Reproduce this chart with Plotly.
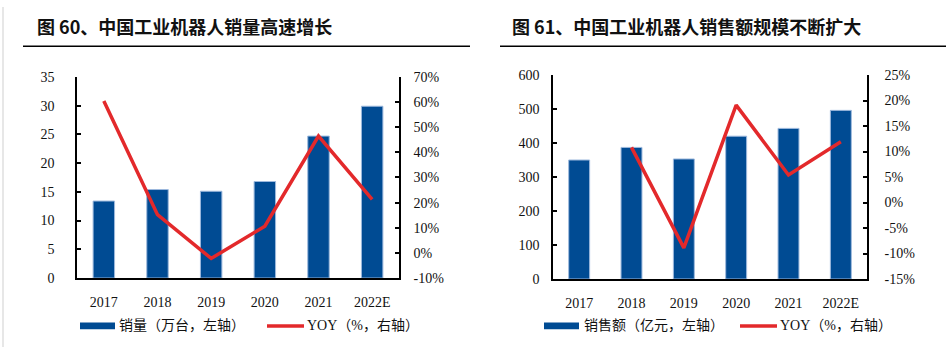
import plotly.graph_objects as go

years = ["2017", "2018", "2019", "2020", "2021", "2022E"]
sales_volume = [13.4, 15.4, 15.1, 16.8, 24.7, 29.9]          # 万台
volume_yoy = [60.4, 15.2, -2.2, 10.6, 46.5, 21.3]             # %
sales_value = [350, 387, 353, 420, 443, 496]                   # 亿元
value_yoy = [None, 10.8, -8.9, 19.1, 5.4, 11.9]                # %

left_ticks_pct = [-10, 0, 10, 20, 30, 40, 50, 60, 70]
right_ticks_pct = [-15, -10, -5, 0, 5, 10, 15, 20, 25]

W, H = 946, 355
BLUE = "#004B93"
RED = "#E3292B"
SERIF = "Liberation Serif"
CJK = "Noto Sans CJK SC"

def px(x):
    return x / W

def py(y):
    return (H - y) / H

fig = go.Figure()

fig.add_trace(go.Bar(x=years, y=sales_volume, xaxis="x", yaxis="y",
                     marker=dict(color=BLUE, line=dict(color="#9DB9DD", width=1)),
                     width=0.4, showlegend=False))
fig.add_trace(go.Scatter(x=years, y=volume_yoy, xaxis="x", yaxis="y2", mode="lines",
                         line=dict(color=RED, width=3.5), showlegend=False))
fig.add_trace(go.Bar(x=years, y=sales_value, xaxis="x2", yaxis="y3",
                     marker=dict(color=BLUE, line=dict(color="#9DB9DD", width=1)),
                     width=0.4, showlegend=False))
fig.add_trace(go.Scatter(x=years, y=value_yoy, xaxis="x2", yaxis="y4", mode="lines",
                         line=dict(color=RED, width=3.5), showlegend=False, connectgaps=False))

tickfont = dict(family=SERIF, size=14, color="#111")
ax_common = dict(showline=True, linecolor="black", linewidth=1.5, showgrid=False,
                 zeroline=False, tickfont=tickfont)

xdom1 = [px(77), px(399)]
ydom1 = [py(283), py(73)]
xdom2 = [px(553), px(867)]
ydom2 = [py(284), py(71)]

fig.update_layout(
    width=W, height=H, margin=dict(l=0, r=0, t=0, b=0),
    paper_bgcolor="white", plot_bgcolor="white",
    bargap=0.6,
    xaxis=dict(domain=xdom1, anchor="y", type="category", ticks="",
               ticklabelstandoff=10, **ax_common),
    yaxis=dict(domain=ydom1, anchor="x", range=[0, 35], dtick=5, ticks="inside",
               ticklen=4, tickcolor="black", tickwidth=1.5, ticklabelstandoff=18, **ax_common),
    yaxis2=dict(overlaying="y", anchor="x", side="right", range=[-10, 70],
                tickvals=left_ticks_pct, ticktext=[f"{v}%" for v in left_ticks_pct],
                ticks="inside", ticklen=4, tickcolor="black", tickwidth=1.5,
                ticklabelstandoff=10, **ax_common),
    xaxis2=dict(domain=xdom2, anchor="y3", type="category", ticks="",
                ticklabelstandoff=10, **ax_common),
    yaxis3=dict(domain=ydom2, anchor="x2", range=[0, 600], dtick=100, ticks="inside",
                ticklen=4, tickcolor="black", tickwidth=1.5, ticklabelstandoff=9, **ax_common),
    yaxis4=dict(overlaying="y3", anchor="x2", side="right", range=[-15, 25],
                tickvals=right_ticks_pct, ticktext=[f"{v}%" for v in right_ticks_pct],
                ticks="inside", ticklen=4, tickcolor="black", tickwidth=1.5,
                ticklabelstandoff=13, **ax_common),
)

shapes = []
annotations = []

# page border line on the left
shapes.append(dict(type="line", xref="paper", yref="paper", x0=px(3), x1=px(3),
                   y0=0, y1=1, line=dict(color="#cfcfcf", width=1)))

# titles and underlines
for tx, text, lx0, lx1 in [(35, "图 60、中国工业机器人销量高速增长", 23, 470),
                            (510, "图 61、中国工业机器人销售额规模不断扩大", 500, 946)]:
    annotations.append(dict(xref="paper", yref="paper", x=px(tx), y=py(20),
                            xanchor="left", yanchor="middle", showarrow=False,
                            text=f"<b>{text}</b>",
                            font=dict(family=CJK, size=18, color="#111")))
    shapes.append(dict(type="line", xref="paper", yref="paper", x0=px(lx0), x1=px(lx1),
                       y0=py(41), y1=py(41), line=dict(color="black", width=1.5)))

# legends
def legend(bx0, bx1, btext_x, btext, lx0, lx1, ltext_x, ltext, y=333):
    shapes.append(dict(type="rect", xref="paper", yref="paper", x0=px(bx0), x1=px(bx1),
                       y0=py(y + 3.5), y1=py(y - 3.5), fillcolor=BLUE,
                       line=dict(width=0)))
    shapes.append(dict(type="line", xref="paper", yref="paper", x0=px(lx0), x1=px(lx1),
                       y0=py(y), y1=py(y), line=dict(color=RED, width=3.5)))
    for x, t in [(btext_x, btext), (ltext_x, ltext)]:
        annotations.append(dict(xref="paper", yref="paper", x=px(x), y=py(y),
                                xanchor="left", yanchor="middle", showarrow=False,
                                text=t, font=dict(family=f"{SERIF}, {CJK}", size=14, color="#111")))

legend(80, 115, 117, "销量（万台，左轴）", 267, 304, 305, "YOY（%，右轴）")
legend(544, 579, 582, "销售额（亿元，左轴）", 740, 777, 778, "YOY（%，右轴）")

fig.update_layout(shapes=shapes, annotations=annotations)
fig.write_html("out.html",
               config={"displayModeBar": False},
               post_script="document.body.style.margin='0';document.body.style.overflow='hidden';")
